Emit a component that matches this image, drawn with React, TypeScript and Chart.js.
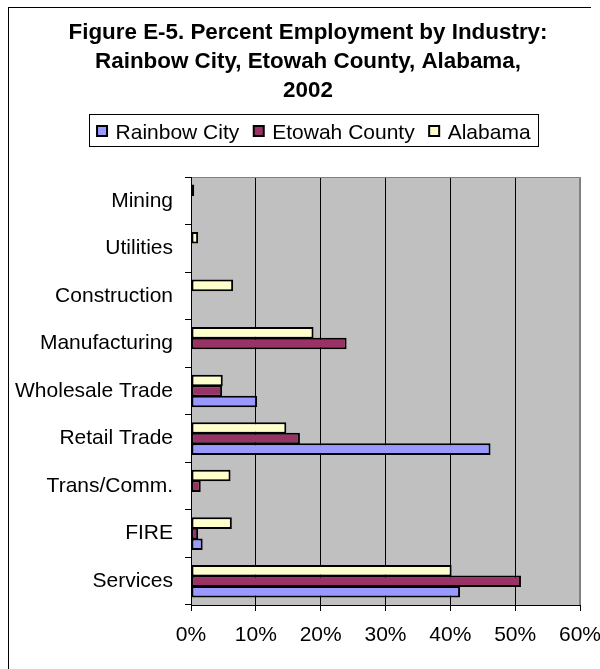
import React, { useEffect, useRef } from 'react';
import { Chart, registerables } from 'chart.js';

Chart.register(...registerables);

const FONT = '"Liberation Sans", Arial, Helvetica, sans-serif';

const categories = [
  'Mining',
  'Utilities',
  'Construction',
  'Manufacturing',
  'Wholesale Trade',
  'Retail Trade',
  'Trans/Comm.',
  'FIRE',
  'Services',
];
const rainbowCity = [0, 0, 0, 0, 10.2, 46.2, 0, 1.8, 41.5];
const etowahCounty = [0, 0, 0, 24.0, 4.8, 16.8, 1.5, 1.1, 50.9];
const alabama = [0.5, 1.1, 6.5, 18.9, 4.9, 14.7, 6.1, 6.3, 40.2];
const xTicks = [0, 10, 20, 30, 40, 50, 60];
const titleLines = [
  'Figure E-5. Percent Employment by Industry:',
  'Rainbow City, Etowah County, Alabama,',
  '2002',
];

const framePlugin = {
  id: 'frameAndPlot',
  beforeDraw(chart: any) {
    const { ctx, chartArea: a } = chart;
    ctx.save();
    ctx.fillStyle = '#ffffff';
    ctx.fillRect(0, 0, chart.width, chart.height);
    ctx.fillStyle = '#C0C0C0';
    ctx.fillRect(a.left, a.top, a.right - a.left, a.bottom - a.top);
    ctx.fillStyle = '#000000';
    ctx.fillRect(8, 7, 583, 1);
    ctx.fillRect(8, 7, 1, chart.height - 7);
    ctx.restore();
  },
  afterDatasetsDraw(chart: any) {
    const { ctx, chartArea: a } = chart;
    ctx.save();
    ctx.strokeStyle = '#808080';
    ctx.lineWidth = 1;
    ctx.beginPath();
    ctx.moveTo(a.left + 1, a.top + 0.5);
    ctx.lineTo(a.right - 0.5, a.top + 0.5);
    ctx.lineTo(a.right - 0.5, a.bottom);
    ctx.stroke();
    ctx.restore();
  },
};

const legendPlugin = {
  id: 'boxedLegend',
  afterDraw(chart: any) {
    const ctx = chart.ctx;
    const items = chart.data.datasets
      .map((d: any) => ({ label: d.label, color: d.backgroundColor }))
      .reverse();
    ctx.save();
    ctx.font = `21px ${FONT}`;
    const boxVis = 12;
    const textOff = 19.5;
    const gap = 13.5;
    const widths = items.map((it: any) => textOff + ctx.measureText(it.label).width);
    const total = widths.reduce((s: number, w: number) => s + w, 0) + gap * (items.length - 1);
    const cx = 313.3;
    let x = cx - total / 2;
    const left = Math.round(x - 7);
    const right = Math.round(x + total + 7.5);
    ctx.strokeStyle = '#000';
    ctx.lineWidth = 1;
    ctx.strokeRect(left + 0.5, 114.5, right - left, 32);
    items.forEach((it: any, i: number) => {
      ctx.fillStyle = it.color;
      ctx.fillRect(x + 1, 126, boxVis - 2, 10);
      ctx.lineWidth = 2;
      ctx.strokeStyle = '#000';
      ctx.strokeRect(x + 1, 126, boxVis - 2, 10);
      ctx.fillStyle = '#000';
      ctx.textAlign = 'left';
      ctx.textBaseline = 'alphabetic';
      ctx.fillText(it.label, x + textOff, 138.5);
      x += widths[i] + gap;
    });
    ctx.restore();
  },
};

export default function App() {
  const ref = useRef<HTMLCanvasElement>(null);
  useEffect(() => {
    const canvas = ref.current as HTMLCanvasElement;
    const common = {
      borderColor: '#000000',
      borderWidth: 2,
      borderSkipped: false,
      categoryPercentage: 0.665,
      barPercentage: 1.1,
    };
    const chart = new Chart(canvas, {
      type: 'bar',
      data: {
        labels: categories,
        datasets: [
          { label: 'Alabama', data: alabama, backgroundColor: '#FFFFCC', ...common },
          { label: 'Etowah County', data: etowahCounty, backgroundColor: '#993366', ...common },
          { label: 'Rainbow City', data: rainbowCity, backgroundColor: '#9999FF', ...common },
        ],
      } as any,
      options: {
        indexAxis: 'y',
        responsive: false,
        animation: false,
        devicePixelRatio: 1,
        layout: { padding: { left: 8, right: -8, top: 0, bottom: 0 } },
        plugins: {
          legend: { display: false },
          tooltip: { enabled: false },
          title: {
            display: true,
            text: titleLines,
            color: '#000',
            font: { family: FONT, size: 22.4, weight: 'bold', lineHeight: '29px' },
            padding: { top: 18, bottom: 72 },
          },
        },
        scales: {
          x: {
            type: 'linear',
            min: 0,
            max: 60,
            afterBuildTicks: (s: any) => {
              s.ticks = xTicks.map((v) => ({ value: v }));
            },
            ticks: {
              callback: (v: any) => v + '%',
              color: '#000',
              font: { family: FONT, size: 21 },
              padding: 12,
              maxRotation: 0,
              autoSkip: false,
            },
            grid: {
              color: (c: any) => (c.tick && c.tick.value === 60 ? '#808080' : '#000000'),
              tickColor: '#000000',
              tickLength: 6,
              lineWidth: 1,
            },
            border: { color: '#000', width: 1 },
            afterFit: (s: any) => {
              s.height = 64;
              s.paddingLeft = 0;
              s.paddingRight = 20;
            },
          },
          y: {
            ticks: { color: '#000', font: { family: FONT, size: 21 }, padding: 12, autoSkip: false },
            grid: { drawOnChartArea: false, color: '#000', tickLength: 6, offset: true },
            border: { color: '#000', width: 1 },
            afterFit: (s: any) => {
              s.width = 183;
              s.paddingTop = 0;
              s.paddingBottom = 0;
            },
          },
        },
      } as any,
      plugins: [framePlugin, legendPlugin],
    });
    return () => chart.destroy();
  }, []);

  return (
    <div style={{ position: 'absolute', left: 0, top: 0, width: 600, height: 669 }}>
      <canvas ref={ref} width={600} height={669} style={{ display: 'block' }} />
    </div>
  );
}
